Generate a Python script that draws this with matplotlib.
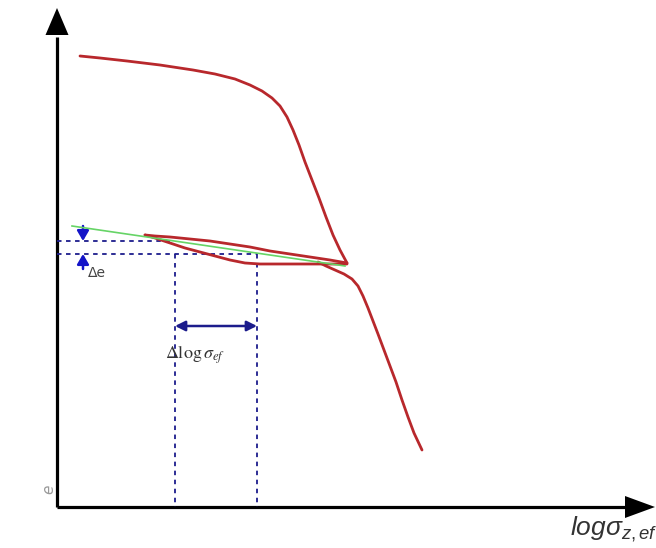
import matplotlib.pyplot as plt
import numpy as np

plt.rcParams["mathtext.fontset"] = "custom"
plt.rcParams["mathtext.it"] = "Liberation Sans:italic"
plt.rcParams["mathtext.rm"] = "Liberation Sans"

# x = log sigma, y = void ratio e (arbitrary units)
virgin_x = [0.23, 0.43, 0.70, 1.03, 1.36, 1.58, 1.78, 1.93, 2.05, 2.15, 2.23,
            2.30, 2.36, 2.42, 2.48, 2.55, 2.62, 2.69, 2.76, 2.83, 2.90]
virgin_e = [4.51, 4.49, 4.46, 4.42, 4.37, 4.33, 4.28, 4.22, 4.16, 4.09, 4.01,
            3.90, 3.77, 3.62, 3.45, 3.27, 3.09, 2.90, 2.72, 2.57, 2.44]

unload_x = [2.90, 2.73, 2.53, 2.33, 2.13, 1.93, 1.73, 1.53, 1.33, 1.13, 0.98, 0.88]
unload_e = [2.44, 2.47, 2.50, 2.53, 2.56, 2.60, 2.63, 2.66, 2.68, 2.70, 2.71, 2.72]

reload_x = [0.88, 0.98, 1.13, 1.28, 1.43, 1.58, 1.73, 1.88, 2.03, 2.43, 2.90]
reload_e = [2.72, 2.69, 2.64, 2.59, 2.55, 2.51, 2.47, 2.44, 2.43, 2.43, 2.43]

cont_x = [2.61, 2.69, 2.78, 2.87, 2.95, 3.01, 3.06, 3.11, 3.16, 3.21, 3.27,
          3.33, 3.39, 3.45, 3.51, 3.57, 3.65]
cont_e = [2.45, 2.41, 2.37, 2.33, 2.28, 2.21, 2.11, 1.99, 1.86, 1.73, 1.57,
          1.41, 1.25, 1.07, 0.90, 0.74, 0.57]

green_x = [0.15, 2.88]
green_e = [2.81, 2.41]

e_upper, e_lower = 2.66, 2.53
x_left, x_right = 1.18, 2.00
upper_dash_end = 1.13
arrow_e = 1.81
de_x = 0.26

RED = "#b8282c"
NAVY = "#1c1c8c"
BLUE = "#1414c8"

fig = plt.figure(figsize=(6.56, 5.48), dpi=100)
ax = fig.add_axes([0, 0, 1, 1])
ax.set_xlim(-0.57, 5.99)
ax.set_ylim(-0.41, 5.07)
ax.axis("off")

# axes with arrows
ax.plot([0, 0], [0, 4.70], color="black", lw=2.3, solid_capstyle="butt")
ax.plot([0, 5.70], [0, 0], color="black", lw=2.3, solid_capstyle="butt")
ax.fill([-0.115, 0.115, 0], [4.72, 4.72, 4.99], color="black", lw=0)
ax.fill([5.68, 5.68, 5.98], [0.11, -0.11, 0], color="black", lw=0)

# curves
line = dict(color=RED, lw=2.0, zorder=3, solid_joinstyle="round", solid_capstyle="round")
ax.plot(green_x, green_e, color="#66d466", lw=1.2, zorder=4)
ax.plot(virgin_x, virgin_e, **line)
ax.plot(unload_x, unload_e, **line)
ax.plot(reload_x, reload_e, **line)
ax.plot(cont_x, cont_e, **line)

# dashed guides
dash = dict(color=NAVY, lw=1.3, ls=(0, (2.5, 2.5)))
ax.plot([0, upper_dash_end], [e_upper, e_upper], **dash)
ax.plot([0, x_right], [e_lower, e_lower], **dash)
ax.plot([x_left, x_left], [e_lower, 0], **dash)
ax.plot([x_right, x_right], [e_lower, 0], **dash)

# delta e arrows
head = "-|>,head_length=0.6,head_width=0.35"
ax.annotate("", xy=(de_x, e_upper), xytext=(de_x, e_upper + 0.15),
            arrowprops=dict(arrowstyle=head, color=BLUE, lw=1.8, shrinkA=0, shrinkB=0))
ax.annotate("", xy=(de_x, e_lower), xytext=(de_x, e_lower - 0.15),
            arrowprops=dict(arrowstyle=head, color=BLUE, lw=1.8, shrinkA=0, shrinkB=0))
ax.text(0.31, 2.30, "Δe", fontsize=10, color="#444444", ha="left", va="baseline",
        family="DejaVu Sans")

# delta log sigma arrow
ax.annotate("", xy=(x_left, arrow_e), xytext=(x_right, arrow_e),
            arrowprops=dict(arrowstyle="<|-|>,head_length=0.6,head_width=0.3",
                            color=NAVY, lw=1.8, shrinkA=0, shrinkB=0))
ax.text(1.08, 1.48, r"$\Delta\mathrm{log}\,\sigma_{ef}$", fontsize=13, color="#333333",
        ha="left", va="baseline", math_fontfamily="stix")

# axis labels
ax.text(5.13, -0.28, r"$\mathit{log}\sigma_{z,ef}$", fontsize=19, color="#333333",
        ha="left", va="baseline")
ax.text(-0.08, 0.18, "e", fontsize=11, color="#999999", style="italic",
        rotation=90, ha="center", va="center")

fig.savefig("out.png", dpi=100)
